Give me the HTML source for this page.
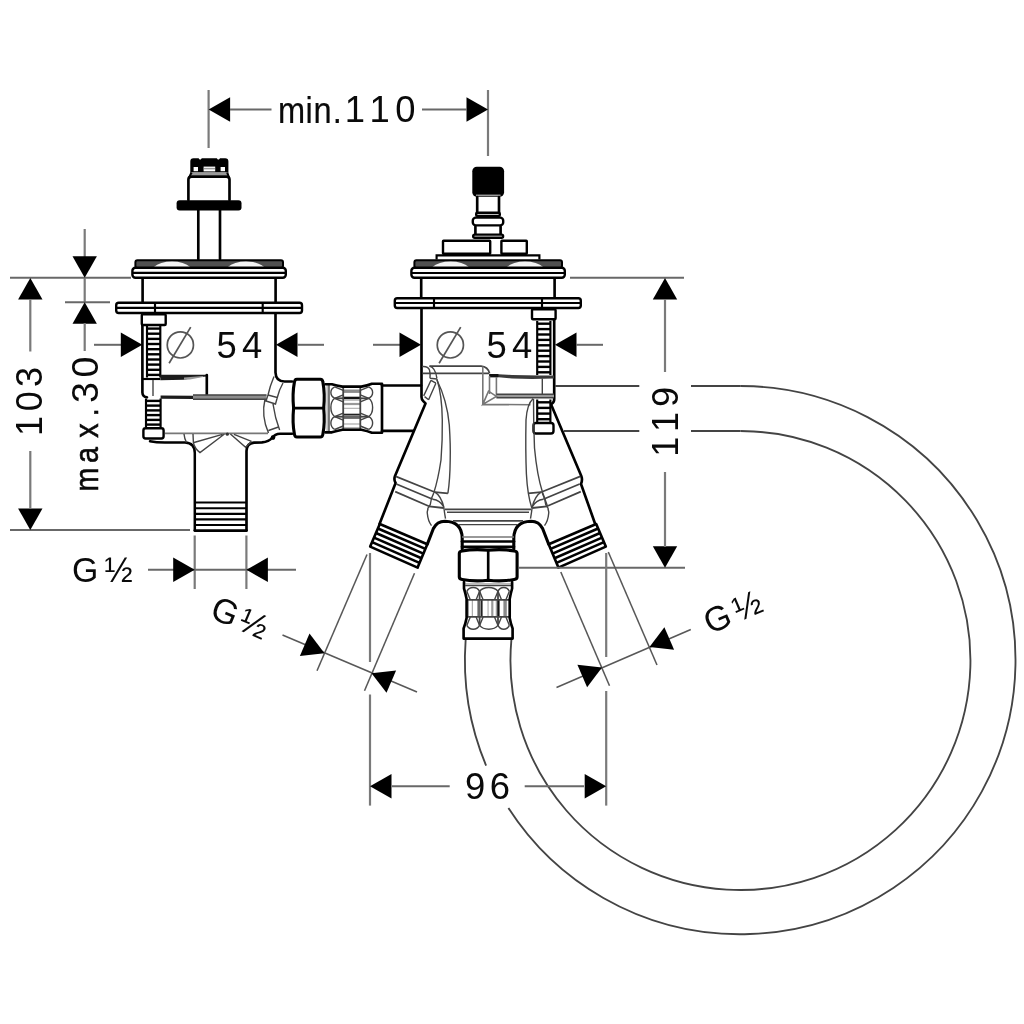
<!DOCTYPE html>
<html lang="en"><head><meta charset="utf-8"><title>Dimension drawing</title>
<style>
html,body{margin:0;padding:0;background:#fff;}
svg{display:block;filter:blur(0.75px);}
text{font-family:"Liberation Sans","DejaVu Sans",sans-serif;fill:#0a0a0a;}
.tb{stroke:#0a0a0a;stroke-width:0.2;}
.tc{stroke:none;}
.tb2{stroke:#0a0a0a;stroke-width:0.55;}
.d{stroke:#7a7a7a;stroke-width:2.2;fill:none;}
.dh{stroke:#686868;stroke-width:2;fill:none;}
.dd{stroke:#585858;stroke-width:1.55;fill:none;}
.h{stroke:#444;stroke-width:1.85;fill:none;}
.ar{fill:#000;}
.k{stroke:#000;stroke-width:2.65;fill:none;stroke-linecap:round;stroke-linejoin:round;}
.k3{stroke:#000;stroke-width:4.5;fill:none;}
.kw{stroke:#000;stroke-width:2.4;fill:#fff;}
.kw3{stroke:#000;stroke-width:3.1;fill:#fff;stroke-linejoin:round;}
.bk{fill:#000;stroke:none;}
.m{stroke:#000;stroke-width:2.15;fill:none;}
.k2{stroke:#000;stroke-width:2.5;fill:none;stroke-linecap:round;stroke-linejoin:round;}
.sep{stroke:#333;stroke-width:2.4;fill:none;}
.g4{stroke:#444;stroke-width:1.7;fill:none;}
.t2{stroke:#000;stroke-width:2.65;fill:none;}
.k3b{stroke:#000;stroke-width:3.1;fill:none;stroke-linecap:round;stroke-linejoin:round;}
.g3{stroke:#777;stroke-width:1.6;fill:none;}
.t{stroke:#000;stroke-width:2.4;fill:none;}
.g{stroke:#444;stroke-width:1.4;fill:none;}
.g2{stroke:#555;stroke-width:1.7;fill:none;}
.gg{stroke:#888;stroke-width:3;fill:none;}
.gk{stroke:#777;stroke-width:2.8;fill:none;}
.gk2{stroke:#444;stroke-width:1.8;fill:none;}
.gw{stroke:#999;stroke-width:1.5;fill:none;}
.fr{stroke:#111;stroke-width:1.9;fill:none;}
</style></head>
<body>
<svg width="1024" height="1024" viewBox="0 0 1024 1024">
<rect x="0" y="0" width="1024" height="1024" fill="#fff"/>
<path class="h" d="M465.64,640.00 A275.3,274.1 0 0 0 486.11,765.60"/>
<path class="h" d="M508.42,808.00 A275.3,274.1 0 1 0 740.20,386.00"/>
<line class="h" x1="740.2" y1="386.0" x2="691.0" y2="386.0"/>
<line class="h" x1="555.5" y1="386.0" x2="639.3" y2="386.0"/>
<path class="h" d="M511.37,640.00 A230,229.5 0 1 0 740.45,431.00"/>
<line class="h" x1="740.5" y1="431.0" x2="691.0" y2="431.0"/>
<line class="h" x1="564.0" y1="431.0" x2="639.3" y2="431.0"/>
<path d="M190.3,172.5 L190.3,161.5 Q190.3,158.3 193.5,158.3 L198.6,158.3 L199.6,159.6 L200.8,159.6 L201.8,158.3 L216.8,158.3 L217.8,159.6 L219,159.6 L220,158.3 L225.2,158.3 Q228.4,158.3 228.4,161.5 L228.4,172.5 Z" fill="#000"/>
<rect x="193.6" y="167" width="4.4" height="4.2" fill="#fff"/><rect x="203.6" y="166.6" width="11.6" height="4.8" fill="#fff"/><rect x="220.6" y="167" width="4.4" height="4.2" fill="#fff"/>
<line class="gw" x1="204.0" y1="168.6" x2="215.0" y2="168.6"/>
<rect x="192" y="172.4" width="35" height="3.2" fill="#999"/>
<path class="k" d="M188.4,200 L188.4,179.5 Q188.4,176.6 191.5,176.6 L226.5,176.6 Q229.5,176.6 229.5,179.5 L229.5,200"/>
<path class="m" d="M191.5,172.5 L189.5,177 M227.2,172.5 L228.8,177"/>
<rect class="bk" x="176.60" y="200.30" width="64.90" height="10.10" rx="3"/>
<line class="k" x1="198.3" y1="210.0" x2="198.3" y2="259.0"/>
<line class="k" x1="220.0" y1="210.0" x2="220.0" y2="259.0"/>
<rect x="135.4" y="260.3" width="147.6" height="7.7" rx="2" fill="#505050" stroke="#000" stroke-width="2"/>
<path d="M153.5,267.3 Q160,261.5 172,261.5 Q184,261.5 190.5,267.3 Z" fill="#f4f4f4"/>
<path d="M227.5,267.3 Q234,261.5 246,261.5 Q258,261.5 264.5,267.3 Z" fill="#f4f4f4"/>
<rect class="kw" x="132.40" y="267.80" width="153.40" height="9.90" rx="3"/>
<line class="m" x1="132.0" y1="272.8" x2="286.5" y2="272.8"/>
<line class="k" x1="142.6" y1="279.0" x2="142.6" y2="302.0"/>
<line class="k" x1="275.6" y1="279.0" x2="275.6" y2="302.0"/>
<rect class="kw" x="116.20" y="302.80" width="185.80" height="10.20" rx="2.5"/>
<line class="m" x1="116.0" y1="307.8" x2="302.0" y2="307.8"/>
<line class="m" x1="155.0" y1="302.0" x2="155.0" y2="314.0"/>
<line class="m" x1="262.7" y1="302.0" x2="262.7" y2="314.0"/>
<rect class="kw" x="141.80" y="314.20" width="23.90" height="10.80" rx="1"/>
<path class="k" d="M142.4,325 L142.4,392.5 Q142.6,397 147,397.2"/>
<line class="m" x1="147.0" y1="326.0" x2="147.0" y2="377.5"/>
<line class="m" x1="160.3" y1="326.0" x2="160.3" y2="377.5"/>
<line class="t" x1="147.0" y1="328.6" x2="160.3" y2="328.6"/>
<line class="t" x1="147.0" y1="333.7" x2="160.3" y2="333.7"/>
<line class="t" x1="147.0" y1="338.9" x2="160.3" y2="338.9"/>
<line class="t" x1="147.0" y1="344.0" x2="160.3" y2="344.0"/>
<line class="t" x1="147.0" y1="349.2" x2="160.3" y2="349.2"/>
<line class="t" x1="147.0" y1="354.3" x2="160.3" y2="354.3"/>
<line class="t" x1="147.0" y1="359.5" x2="160.3" y2="359.5"/>
<line class="t" x1="147.0" y1="364.6" x2="160.3" y2="364.6"/>
<line class="t" x1="147.0" y1="369.8" x2="160.3" y2="369.8"/>
<line class="t" x1="147.0" y1="374.9" x2="160.3" y2="374.9"/>
<line class="m" x1="146.0" y1="398.5" x2="146.0" y2="427.0"/>
<line class="m" x1="160.6" y1="398.5" x2="160.6" y2="427.0"/>
<line class="t" x1="146.0" y1="400.9" x2="160.6" y2="400.9"/>
<line class="t" x1="146.0" y1="405.6" x2="160.6" y2="405.6"/>
<line class="t" x1="146.0" y1="410.4" x2="160.6" y2="410.4"/>
<line class="t" x1="146.0" y1="415.1" x2="160.6" y2="415.1"/>
<line class="t" x1="146.0" y1="419.9" x2="160.6" y2="419.9"/>
<line class="t" x1="146.0" y1="424.6" x2="160.6" y2="424.6"/>
<line class="m" x1="143.0" y1="379.0" x2="160.0" y2="379.0"/>
<polygon points="160.3,374.8 207,374.8 207,376.4 197,377.2 184,379.8 160.3,380.2" fill="#1c1c1c"/>
<polygon points="184,377.4 203,376 203,377 190,379.4 184,379.8" fill="#999"/>
<line class="k" x1="206.8" y1="375.0" x2="206.8" y2="397.5"/>
<line class="g" x1="153.0" y1="380.0" x2="153.0" y2="396.0"/>
<polygon points="160.6,395.4 193,395.8 193,399 160.6,398.8" fill="#1c1c1c"/>
<rect x="193" y="394.9" width="73.5" height="4.5" fill="#8c8c8c"/>
<line class="g" x1="193.0" y1="395.0" x2="266.5" y2="395.0"/>
<line class="g" x1="193.0" y1="399.3" x2="266.5" y2="399.3"/>
<rect class="kw" x="143.40" y="428.20" width="20.20" height="10.30" rx="2.2"/>
<path class="k2" d="M150,441.2 Q156,442.6 165,442.6 L185,442.6 Q194.8,443 194.8,453 L194.8,530.5"/>
<path class="k" d="M194.8,530.6 L246.5,530.6"/>
<path class="k" d="M246.5,530.5 L246.5,451 Q246.6,443.2 254,442.6 L262,442.4 Q269,441.5 272,438 Q275,433.8 280,433.7 L292,433.7"/>
<circle cx="273" cy="437.6" r="2.3" fill="#000"/>
<line class="g3" x1="165.0" y1="433.4" x2="268.0" y2="433.4"/>
<path class="k" d="M275.5,314 L275.5,372.5 Q275.8,381.4 284.5,381.5 L292,381.5"/>
<line class="m" x1="194.7" y1="502.5" x2="246.6" y2="502.5"/>
<line class="m" x1="194.7" y1="508.2" x2="246.6" y2="508.2"/>
<line class="m" x1="194.7" y1="513.8" x2="246.6" y2="513.8"/>
<line class="m" x1="194.7" y1="519.4" x2="246.6" y2="519.4"/>
<line class="m" x1="194.7" y1="525.0" x2="246.6" y2="525.0"/>
<path class="g" d="M184,434 Q184.5,439 186.5,442.5 M193,434 L193.4,443 Q195,449 200,452.6 L224.5,434 M194,442.5 L222.5,434.3 M230.4,434 L245.6,447.3 L251.5,441.4 M234,434.3 L251.5,441.4"/>
<circle cx="227.3" cy="434.2" r="1.6" fill="#333"/>
<path class="g" d="M274,376.5 Q270,386 268,395 M283,383 Q279,390 277.3,397.5 M268,395 L277.3,397.5 L275.5,404 L266,401 Z M265,399 Q261,416 268.5,433 M273,404 Q275,418 279.6,430 M268.5,430.5 L278.5,427"/>
<g transform="translate(325.4 408.1)">
<path class="kw3" d="M-28.5,-28.9 Q-30.6,-28.9 -31,-26 Q-33.2,-14.5 -31.8,0 Q-33.2,14.5 -31,26 Q-30.6,28.9 -28.5,28.9 L-5,28.9 Q-2.9,28.9 -2.5,26 Q-0.3,14.5 -1.7,0 Q-0.3,-14.5 -2.5,-26 Q-2.9,-28.9 -5,-28.9 Z"/>
<line class="k" x1="-32.0" y1="0.0" x2="-1.5" y2="0.0"/>
<rect x="1" y="-23" width="2" height="46" fill="#bbb"/>
<line class="g" x1="3.6" y1="-23.0" x2="3.6" y2="23.0"/>
<rect x="17.8" y="-20.8" width="17.1" height="42" fill="#fff"/>
<rect x="17.8" y="-18.6" width="17.1" height="3.4" fill="#8a8a8a"/>
<rect x="17.8" y="-11.4" width="17.1" height="2.4" fill="#111"/>
<rect x="17.8" y="-8.6" width="17.1" height="1.0" fill="#888"/>
<rect x="17.8" y="-5.2" width="17.1" height="2.2" fill="#999"/>
<rect x="17.8" y="-0.3" width="17.1" height="0.9" fill="#999"/>
<rect x="17.8" y="5.6" width="17.1" height="1.8" fill="#222"/>
<rect x="17.8" y="7.6" width="17.1" height="3.2" fill="#666"/>
<rect x="17.8" y="15.4" width="17.1" height="1.0" fill="#999"/>
<rect x="17.8" y="19.2" width="17.1" height="1.4" fill="#999"/>
<line class="gk2" x1="17.8" y1="-21.0" x2="17.8" y2="21.2"/>
<line class="gk2" x1="34.9" y1="-21.0" x2="34.9" y2="21.2"/>
<path class="g" d="M9.3,-21.2 C4.2,-18.7 4.2,-12.3 9.3,-9.8 M43.4,-21.2 C48.5,-18.7 48.5,-12.3 43.4,-9.8"/>
<path class="g" d="M17.8,-17.7 L9.3,-21.2 M17.8,-13.3 L9.3,-9.8 M34.9,-17.7 L43.4,-21.2 M34.9,-13.3 L43.4,-9.8"/>
<path class="g" d="M9.3,-9.8 C4.2,-5.8 4.2,4.6 9.3,8.6 M43.4,-9.8 C48.5,-5.8 48.5,4.6 43.4,8.6"/>
<path class="g" d="M17.8,-6.3 L9.3,-9.8 M17.8,5.1 L9.3,8.6 M34.9,-6.3 L43.4,-9.8 M34.9,5.1 L43.4,8.6"/>
<path class="g" d="M9.3,8.6 C4.2,11.4 4.2,18.6 9.3,21.4 M43.4,8.6 C48.5,11.4 48.5,18.6 43.4,21.4"/>
<path class="g" d="M17.8,12.1 L9.3,8.6 M17.8,17.9 L9.3,21.4 M34.9,12.1 L43.4,8.6 M34.9,17.9 L43.4,21.4"/>
<line class="gk2" x1="9.3" y1="-9.8" x2="17.8" y2="-9.8"/>
<line class="gk2" x1="34.9" y1="-9.8" x2="43.4" y2="-9.8"/>
<line class="gk2" x1="9.3" y1="8.6" x2="17.8" y2="8.6"/>
<line class="gk2" x1="34.9" y1="8.6" x2="43.4" y2="8.6"/>
<path class="k" d="M0,-23.9 L6.5,-23.9 Q11,-22.6 17,-21.5 L36,-21.5 Q42,-22.6 46.5,-24.4 L56.6,-24.4 L56.6,24.6 L46.5,24.6 Q42,22.8 36,21.6 L17,21.6 Q11,22.8 6.5,24.2 L0,24.2"/>
</g>
<line class="k" x1="382.0" y1="385.5" x2="421.0" y2="385.5"/>
<line class="k" x1="382.0" y1="430.9" x2="413.5" y2="430.9"/>
<rect class="bk" x="472.30" y="166.80" width="31.80" height="30.00" rx="4.5"/>
<line class="gw" x1="476.0" y1="195.3" x2="500.5" y2="195.3"/>
<path class="k" d="M477.2,197 L477.2,212 M499,197 L499,212"/>
<rect class="kw" x="476.20" y="212.80" width="23.60" height="3.10" rx="1"/>
<rect class="kw" x="472.80" y="217.60" width="30.40" height="7.80" rx="3"/>
<path class="k" d="M475.4,226.5 L475.4,234 M500.6,226.5 L500.6,234"/>
<rect class="kw" x="473.20" y="234.60" width="29.90" height="3.20" rx="1.5"/>
<rect class="kw" x="443.00" y="240.80" width="47.20" height="12.90" rx="0.5"/>
<rect class="kw" x="501.40" y="240.80" width="25.40" height="12.90" rx="0.5"/>
<path class="m" d="M436.6,259.5 L436.6,255.4 L539.4,255.4 L539.4,259.5"/>
<rect x="414.4" y="260.3" width="147.6" height="7.7" rx="2" fill="#505050" stroke="#000" stroke-width="2"/>
<path d="M432.1,267.3 Q438.6,261.5 450.6,261.5 Q462.6,261.5 469.1,267.3 Z" fill="#f4f4f4"/>
<path d="M506.5,267.3 Q513,261.5 525,261.5 Q537,261.5 543.5,267.3 Z" fill="#f4f4f4"/>
<rect class="kw" x="411.40" y="267.80" width="153.40" height="9.90" rx="3"/>
<line class="m" x1="411.0" y1="273.0" x2="565.5" y2="273.0"/>
<line class="k" x1="421.2" y1="279.0" x2="421.2" y2="298.0"/>
<line class="k" x1="554.6" y1="279.0" x2="554.6" y2="298.0"/>
<rect class="kw" x="394.80" y="298.20" width="186.00" height="9.80" rx="2.5"/>
<line class="m" x1="394.5" y1="303.0" x2="581.5" y2="303.0"/>
<line class="m" x1="434.0" y1="297.5" x2="434.0" y2="309.0"/>
<line class="m" x1="542.0" y1="297.5" x2="542.0" y2="309.0"/>
<path class="k" d="M421.5,309 L421.5,397 Q421.6,399.5 423,400.8 L425.5,403.4 L395,476 Q393.6,479.6 395.6,483 L379.5,524"/>
<path class="k" d="M554.2,320 L554.2,399 Q554.2,402.5 552,403.5 L551.2,404.8 L581.3,476 Q582.8,479.6 581,484 L595,523.5"/>
<rect class="kw" x="532.00" y="309.20" width="23.60" height="10.10" rx="1"/>
<line class="m" x1="537.2" y1="321.0" x2="537.2" y2="375.0"/>
<line class="m" x1="550.4" y1="321.0" x2="550.4" y2="375.0"/>
<line class="t" x1="537.2" y1="323.7" x2="550.4" y2="323.7"/>
<line class="t" x1="537.2" y1="329.1" x2="550.4" y2="329.1"/>
<line class="t" x1="537.2" y1="334.5" x2="550.4" y2="334.5"/>
<line class="t" x1="537.2" y1="339.9" x2="550.4" y2="339.9"/>
<line class="t" x1="537.2" y1="345.3" x2="550.4" y2="345.3"/>
<line class="t" x1="537.2" y1="350.7" x2="550.4" y2="350.7"/>
<line class="t" x1="537.2" y1="356.1" x2="550.4" y2="356.1"/>
<line class="t" x1="537.2" y1="361.5" x2="550.4" y2="361.5"/>
<line class="t" x1="537.2" y1="366.9" x2="550.4" y2="366.9"/>
<line class="t" x1="537.2" y1="372.3" x2="550.4" y2="372.3"/>
<line class="m" x1="537.2" y1="399.5" x2="537.2" y2="422.0"/>
<line class="m" x1="550.4" y1="399.5" x2="550.4" y2="422.0"/>
<line class="t" x1="537.2" y1="402.3" x2="550.4" y2="402.3"/>
<line class="t" x1="537.2" y1="407.9" x2="550.4" y2="407.9"/>
<line class="t" x1="537.2" y1="413.6" x2="550.4" y2="413.6"/>
<line class="t" x1="537.2" y1="419.2" x2="550.4" y2="419.2"/>
<rect class="kw" x="533.50" y="423.00" width="20.00" height="10.50" rx="2.5"/>
<polygon points="489.5,374.2 498.5,374.2 512,375 540,375.4 554,375.4 554,378.6 532,379 512,378.6 498.5,377.2 489.5,377.2" fill="#3a3a3a"/>
<rect x="489.2" y="374" width="9.2" height="3.2" fill="#111"/>
<line class="g3" x1="489.5" y1="376.0" x2="489.5" y2="394.0"/>
<line class="g3" x1="496.4" y1="377.0" x2="496.4" y2="396.0"/>
<line class="g" x1="542.3" y1="378.5" x2="542.3" y2="396.0"/>
<rect x="496.4" y="394.2" width="57.6" height="3.6" fill="#999"/>
<line class="g" x1="496.4" y1="394.2" x2="554.0" y2="394.2"/>
<line class="g" x1="496.4" y1="397.8" x2="554.0" y2="397.8"/>
<path class="g4" d="M429.5,366.1 L481,366.1 Q488,366.6 489.6,373.4"/>
<path class="g4" d="M422.7,373.4 L489,373.4"/>
<path class="g3" d="M482.8,366.5 L482.8,404.4 L530.5,404.7 M482.8,404.4 L488.5,391.2 L496.4,396.4 Z"/>
<path class="g" d="M422,366.6 Q428,366 429.5,370 Q430.5,374 430,378.3 M429.5,366.1 Q435.5,367.5 436.9,378.3 M423.7,395.9 L431,380.3 M428.6,399.8 L435.9,383.2 M431,380.3 L435.9,383.2 M424.6,396.6 L428.6,399.8 M430,378.3 L436.9,379"/>
<path class="g" d="M436.9,379 Q442,395 442.3,420 Q442.6,440 441,460 Q438,480 433.8,492.8"/>
<path class="g" d="M436.9,380 Q447,400 449.3,425 Q450.6,445 450.2,460 Q450,480 447.9,493.4"/>
<path class="g" d="M533.2,398.5 Q527,404 526,420 Q525.4,450 526.4,474 Q527.5,495 531.8,508"/>
<path class="g" d="M533.5,399 Q533.5,425 534.5,448 Q537,475 542.5,492.3 L547.4,506"/>
<path class="k" d="M379.8,524 L370.2,546.6 L417.6,567.6 L427.3,544.2"/>
<line class="t2" x1="379.8" y1="524.0" x2="427.3" y2="544.2"/>
<line class="t2" x1="377.9" y1="528.5" x2="425.4" y2="548.9"/>
<line class="t2" x1="376.0" y1="533.0" x2="423.4" y2="553.6"/>
<line class="t2" x1="374.0" y1="537.6" x2="421.5" y2="558.2"/>
<line class="t2" x1="372.1" y1="542.1" x2="419.5" y2="562.9"/>
<path class="k3b" d="M427.3,544.2 L433.4,528.5 Q437,521.2 445,521.2 Q461.8,521.6 462.2,538 L462.2,549"/>
<path class="g4" d="M395.7,476.4 L435,492.2 L447.9,493.4 M396.3,484 L432.7,499.3 M395.2,491.6 L429,506.3"/>
<path class="gk2" d="M429,506.3 L443.8,508"/>
<path class="g" d="M433.8,492.8 Q431,498 430.3,504.5 Q426.5,509 427.4,514 Q428,521 431.5,525.6 M435,492.2 Q441,496 443.8,507 Q444.5,513 445.5,518.6 M432.7,499.3 Q440,500 443.8,507"/>
<g transform="translate(976,0) scale(-1,1)">
<path class="k" d="M379.8,524 L370.2,546.6 L417.6,567.6 L427.3,544.2"/>
<line class="t2" x1="379.8" y1="524.0" x2="427.3" y2="544.2"/>
<line class="t2" x1="377.9" y1="528.5" x2="425.4" y2="548.9"/>
<line class="t2" x1="376.0" y1="533.0" x2="423.4" y2="553.6"/>
<line class="t2" x1="374.0" y1="537.6" x2="421.5" y2="558.2"/>
<line class="t2" x1="372.1" y1="542.1" x2="419.5" y2="562.9"/>
<path class="k3b" d="M427.3,544.2 L433.4,528.5 Q437,521.2 445,521.2 Q461.8,521.6 462.2,538 L462.2,549"/>
<path class="g4" d="M395.7,476.4 L435,492.2 L447.9,493.4 M396.3,484 L432.7,499.3 M395.2,491.6 L429,506.3"/>
<path class="gk2" d="M429,506.3 L443.8,508"/>
<path class="g" d="M433.8,492.8 Q431,498 430.3,504.5 Q426.5,509 427.4,514 Q428,521 431.5,525.6 M435,492.2 Q441,496 443.8,507 Q444.5,513 445.5,518.6 M432.7,499.3 Q440,500 443.8,507"/>
</g>
<line class="g4" x1="445.0" y1="509.3" x2="531.0" y2="509.3"/>
<line class="g" x1="447.0" y1="512.2" x2="529.0" y2="512.2"/>
<line class="g4" x1="453.0" y1="520.8" x2="523.0" y2="520.8"/>
<line class="g" x1="459.0" y1="524.6" x2="517.0" y2="524.6"/>
<line class="g3" x1="462.0" y1="537.0" x2="514.0" y2="537.0"/>
<line class="k" x1="462.0" y1="541.5" x2="514.0" y2="541.5"/>
<line class="k" x1="462.0" y1="546.8" x2="514.0" y2="546.8"/>
<g transform="translate(488.2 582) rotate(90)">
<path class="kw3" d="M-28.5,-28.9 Q-30.6,-28.9 -31,-26 Q-33.2,-14.5 -31.8,0 Q-33.2,14.5 -31,26 Q-30.6,28.9 -28.5,28.9 L-5,28.9 Q-2.9,28.9 -2.5,26 Q-0.3,14.5 -1.7,0 Q-0.3,-14.5 -2.5,-26 Q-2.9,-28.9 -5,-28.9 Z"/>
<line class="k" x1="-32.0" y1="0.0" x2="-1.5" y2="0.0"/>
<rect x="1" y="-23" width="2" height="46" fill="#bbb"/>
<line class="g" x1="3.6" y1="-23.0" x2="3.6" y2="23.0"/>
<rect x="17.8" y="-20.8" width="17.1" height="42" fill="#fff"/>
<rect x="17.8" y="-18.6" width="17.1" height="3.4" fill="#8a8a8a"/>
<rect x="17.8" y="-11.4" width="17.1" height="2.4" fill="#111"/>
<rect x="17.8" y="-8.6" width="17.1" height="1.0" fill="#888"/>
<rect x="17.8" y="-5.2" width="17.1" height="2.2" fill="#999"/>
<rect x="17.8" y="-0.3" width="17.1" height="0.9" fill="#999"/>
<rect x="17.8" y="5.6" width="17.1" height="1.8" fill="#222"/>
<rect x="17.8" y="7.6" width="17.1" height="3.2" fill="#666"/>
<rect x="17.8" y="15.4" width="17.1" height="1.0" fill="#999"/>
<rect x="17.8" y="19.2" width="17.1" height="1.4" fill="#999"/>
<line class="gk2" x1="17.8" y1="-21.0" x2="17.8" y2="21.2"/>
<line class="gk2" x1="34.9" y1="-21.0" x2="34.9" y2="21.2"/>
<path class="g" d="M9.3,-21.2 C4.2,-18.7 4.2,-12.3 9.3,-9.8 M43.4,-21.2 C48.5,-18.7 48.5,-12.3 43.4,-9.8"/>
<path class="g" d="M17.8,-17.7 L9.3,-21.2 M17.8,-13.3 L9.3,-9.8 M34.9,-17.7 L43.4,-21.2 M34.9,-13.3 L43.4,-9.8"/>
<path class="g" d="M9.3,-9.8 C4.2,-5.8 4.2,4.6 9.3,8.6 M43.4,-9.8 C48.5,-5.8 48.5,4.6 43.4,8.6"/>
<path class="g" d="M17.8,-6.3 L9.3,-9.8 M17.8,5.1 L9.3,8.6 M34.9,-6.3 L43.4,-9.8 M34.9,5.1 L43.4,8.6"/>
<path class="g" d="M9.3,8.6 C4.2,11.4 4.2,18.6 9.3,21.4 M43.4,8.6 C48.5,11.4 48.5,18.6 43.4,21.4"/>
<path class="g" d="M17.8,12.1 L9.3,8.6 M17.8,17.9 L9.3,21.4 M34.9,12.1 L43.4,8.6 M34.9,17.9 L43.4,21.4"/>
<line class="gk2" x1="9.3" y1="-9.8" x2="17.8" y2="-9.8"/>
<line class="gk2" x1="34.9" y1="-9.8" x2="43.4" y2="-9.8"/>
<line class="gk2" x1="9.3" y1="8.6" x2="17.8" y2="8.6"/>
<line class="gk2" x1="34.9" y1="8.6" x2="43.4" y2="8.6"/>
<path class="k" d="M0,-23.9 L6.5,-23.9 Q11,-22.6 17,-21.5 L36,-21.5 Q42,-22.6 46.5,-24.4 L56.6,-24.4 L56.6,24.6 L46.5,24.6 Q42,22.8 36,21.6 L17,21.6 Q11,22.8 6.5,24.2 L0,24.2"/>
</g>
<line class="d" x1="208.6" y1="90.0" x2="208.6" y2="148.0"/>
<line class="d" x1="488.0" y1="90.0" x2="488.0" y2="156.0"/>
<polygon class="ar" points="208.6,109.5 230.1,97.3 230.1,121.7"/>
<polygon class="ar" points="488.0,109.5 466.5,121.7 466.5,97.3"/>
<line class="dh" x1="230.0" y1="109.5" x2="271.5" y2="109.5"/>
<line class="dh" x1="422.0" y1="109.5" x2="467.0" y2="109.5"/>
<g>
<text class="tb" transform="translate(280.0 122.6) scale(0.880 1)" font-size="37" x="-2.3 29.1 38.1 60.0" y="0">min.</text>
<text class="tc" transform="translate(340.0 122.3)" font-size="36.4" x="4.8 29.4 55.2" y="0">110</text>
</g>
<line class="dh" x1="10.0" y1="277.8" x2="131.0" y2="277.8"/>
<line class="dh" x1="10.0" y1="530.0" x2="190.0" y2="530.0"/>
<polygon class="ar" points="30.3,278.0 42.5,299.5 18.1,299.5"/>
<polygon class="ar" points="30.3,530.0 18.1,508.5 42.5,508.5"/>
<line class="d" x1="30.3" y1="299.0" x2="30.3" y2="351.5"/>
<line class="d" x1="30.3" y1="451.0" x2="30.3" y2="509.0"/>
<text class="tc" transform="translate(42.3 440.0) rotate(-90.0)" font-size="36" x="3.9 28.7 53.1" y="0">103</text>
<line class="d" x1="84.7" y1="229.0" x2="84.7" y2="257.0"/>
<polygon class="ar" points="84.7,277.8 72.5,256.3 96.9,256.3"/>
<line class="d" x1="84.7" y1="277.8" x2="84.7" y2="302.3"/>
<line class="dh" x1="65.0" y1="302.3" x2="110.0" y2="302.3"/>
<polygon class="ar" points="84.7,302.3 96.9,323.8 72.5,323.8"/>
<line class="d" x1="84.7" y1="323.0" x2="84.7" y2="351.0"/>
<g>
<text class="tb2" transform="translate(97.7 495.0) rotate(-90.0) scale(0.880 1)" font-size="32.5" x="4.1 36.4 65.0 89.6" y="0">max.</text>
<text class="tc" transform="translate(97.7 405.0) rotate(-90.0)" font-size="37.5" x="2.0 27.4" y="0">30</text>
</g>
<line class="dh" x1="94.0" y1="344.8" x2="121.0" y2="344.8"/>
<polygon class="ar" points="142.3,344.8 120.8,357.0 120.8,332.6"/>
<polygon class="ar" points="276.0,344.8 297.5,332.6 297.5,357.0"/>
<line class="dh" x1="297.0" y1="344.8" x2="324.0" y2="344.8"/>
<line class="dh" x1="373.0" y1="344.8" x2="400.0" y2="344.8"/>
<polygon class="ar" points="421.0,344.8 399.5,357.0 399.5,332.6"/>
<polygon class="ar" points="555.0,344.8 576.5,332.6 576.5,357.0"/>
<line class="dh" x1="576.0" y1="344.8" x2="603.0" y2="344.8"/>
<g role="img" aria-label="diameter"><title>Ø</title>
<circle class="g2" cx="180.35" cy="344.9" r="13.1"/>
<line class="g2" x1="169.1" y1="363.3" x2="190.7" y2="327.1"/>
</g>
<g role="img" aria-label="diameter"><title>Ø</title>
<circle class="g2" cx="450.35" cy="344.9" r="13.1"/>
<line class="g2" x1="439.1" y1="363.3" x2="460.7" y2="327.1"/>
</g>
<text class="tc" transform="translate(210.0 357.8)" font-size="36.4" x="6.5 31.9" y="0">54</text>
<text class="tc" transform="translate(480.0 357.8)" font-size="36.4" x="6.5 31.9" y="0">54</text>
<line class="dh" x1="570.0" y1="277.8" x2="684.0" y2="277.8"/>
<line class="dh" x1="519.0" y1="567.7" x2="685.0" y2="567.7"/>
<polygon class="ar" points="665.0,278.0 677.2,299.5 652.8,299.5"/>
<polygon class="ar" points="665.0,567.7 652.8,546.2 677.2,546.2"/>
<line class="d" x1="665.0" y1="299.0" x2="665.0" y2="372.0"/>
<line class="d" x1="665.0" y1="472.0" x2="665.0" y2="547.0"/>
<text class="tc" transform="translate(677.7 460.0) rotate(-90.0)" font-size="36.2" x="3.2 28.1 52.9" y="0">119</text>
<line class="d" x1="370.0" y1="553.0" x2="370.0" y2="662.0"/>
<line class="d" x1="370.0" y1="694.5" x2="370.0" y2="805.6"/>
<line class="d" x1="606.2" y1="553.0" x2="606.2" y2="657.0"/>
<line class="d" x1="606.2" y1="691.0" x2="606.2" y2="805.6"/>
<polygon class="ar" points="370.0,786.3 391.5,774.1 391.5,798.5"/>
<polygon class="ar" points="606.2,786.3 584.7,798.5 584.7,774.1"/>
<line class="dh" x1="392.0" y1="786.3" x2="449.7" y2="786.3"/>
<line class="dh" x1="524.7" y1="786.3" x2="584.0" y2="786.3"/>
<text class="tc" transform="translate(460.0 798.8)" font-size="36.4" x="4.9 29.8" y="0">96</text>
<line class="d" x1="194.7" y1="535.5" x2="194.7" y2="589.0"/>
<line class="d" x1="246.4" y1="535.5" x2="246.4" y2="589.0"/>
<line class="dh" x1="148.0" y1="569.8" x2="296.0" y2="569.8"/>
<polygon class="ar" points="194.7,569.8 173.2,582.0 173.2,557.6"/>
<polygon class="ar" points="246.4,569.8 267.9,557.6 267.9,582.0"/>
<text class="tc" transform="translate(70.0 582.2) scale(0.980 1)" font-size="34.5" x="2.0 3.0 35.2" y="0">G ½</text>
<line class="dd" x1="367.0" y1="554.5" x2="317.0" y2="670.8"/>
<line class="dd" x1="414.5" y1="573.3" x2="364.5" y2="690.8"/>
<line class="dd" x1="282.5" y1="635.0" x2="417.0" y2="692.0"/>
<polygon class="ar" points="324.5,653.2 299.9,656.0 309.5,633.6"/>
<polygon class="ar" points="371.5,673.2 396.1,670.4 386.5,692.8"/>
<text class="tc" transform="translate(206.7 616.4) rotate(23.0) scale(0.980 1)" font-size="34.5" x="2.0 3.0 32.7" y="0">G ½</text>
<line class="dd" x1="560.8" y1="572.0" x2="609.5" y2="685.8"/>
<line class="dd" x1="608.3" y1="552.0" x2="657.0" y2="665.0"/>
<line class="dd" x1="556.5" y1="687.5" x2="690.8" y2="629.5"/>
<polygon class="ar" points="602.0,667.5 587.1,687.2 577.4,664.8"/>
<polygon class="ar" points="649.5,647.0 664.4,627.3 674.1,649.7"/>
<text class="tc" transform="translate(708.2 635.3) rotate(-23.4) scale(0.980 1)" font-size="34.5" x="2.0 3.0 34.2" y="0">G ½</text>
</svg>
</body></html>
